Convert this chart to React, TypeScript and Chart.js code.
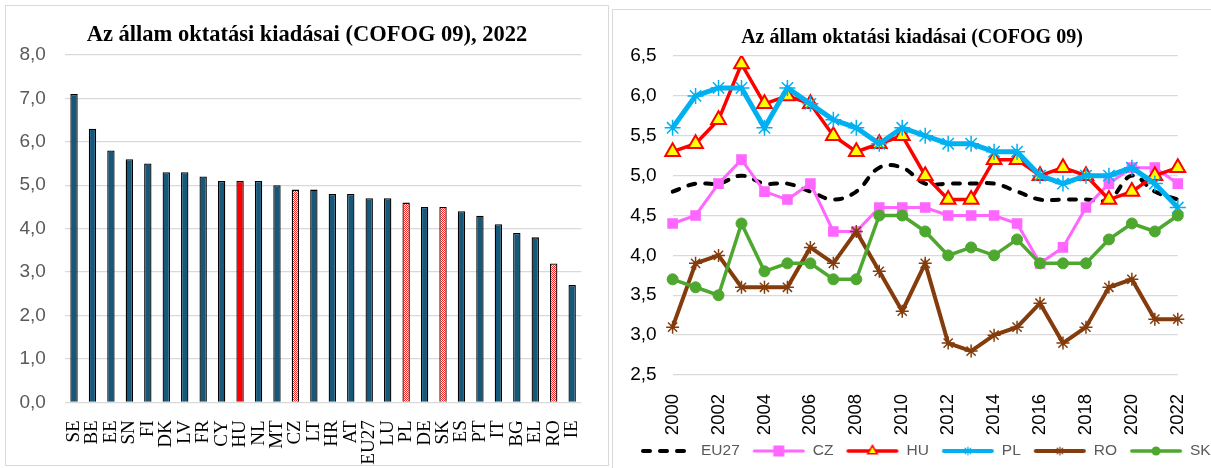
import React, { useEffect, useRef } from 'react';
import { Chart, registerables } from 'chart.js';

Chart.register(...registerables);

// ---------- Left chart data (2022) ----------
const barCategories = ['SE', 'BE', 'EE', 'SN', 'FI', 'DK', 'LV', 'FR', 'CY', 'HU', 'NL', 'MT', 'CZ', 'LT', 'HR', 'AT', 'EU27', 'LU', 'PL', 'DE', 'SK', 'ES', 'PT', 'IT', 'BG', 'EL', 'RO', 'IE'];
const barValues = [7.1, 6.3, 5.8, 5.6, 5.5, 5.3, 5.3, 5.2, 5.1, 5.1, 5.1, 5.0, 4.9, 4.9, 4.8, 4.8, 4.7, 4.7, 4.6, 4.5, 4.5, 4.4, 4.3, 4.1, 3.9, 3.8, 3.2, 2.7];
const solidHighlight = ['HU'];
const patternHighlight = ['CZ', 'PL', 'SK', 'RO'];

// ---------- Right chart data (2000-2022) ----------
const years = ['2000', '2001', '2002', '2003', '2004', '2005', '2006', '2007', '2008', '2009', '2010', '2011', '2012', '2013', '2014', '2015', '2016', '2017', '2018', '2019', '2020', '2021', '2022'];
const eu27 = [4.8, 4.9, 4.9, 5.0, 4.9, 4.9, 4.8, 4.7, 4.8, 5.1, 5.1, 4.9, 4.9, 4.9, 4.9, 4.8, 4.7, 4.7, 4.7, 4.7, 5.0, 4.8, 4.7];
const cz = [4.4, 4.5, 4.9, 5.2, 4.8, 4.7, 4.9, 4.3, 4.3, 4.6, 4.6, 4.6, 4.5, 4.5, 4.5, 4.4, 3.9, 4.1, 4.6, 4.9, 5.1, 5.1, 4.9];
const hu = [5.3, 5.4, 5.7, 6.4, 5.9, 6.0, 5.9, 5.5, 5.3, 5.4, 5.5, 5.0, 4.7, 4.7, 5.2, 5.2, 5.0, 5.1, 5.0, 4.7, 4.8, 5.0, 5.1];
const pl = [5.6, 6.0, 6.1, 6.1, 5.6, 6.1, 5.9, 5.7, 5.6, 5.4, 5.6, 5.5, 5.4, 5.4, 5.3, 5.3, 5.0, 4.9, 5.0, 5.0, 5.1, 4.9, 4.6];
const ro = [3.1, 3.9, 4.0, 3.6, 3.6, 3.6, 4.1, 3.9, 4.3, 3.8, 3.3, 3.9, 2.9, 2.8, 3.0, 3.1, 3.4, 2.9, 3.1, 3.6, 3.7, 3.2, 3.2];
const sk = [3.7, 3.6, 3.5, 4.4, 3.8, 3.9, 3.9, 3.7, 3.7, 4.5, 4.5, 4.3, 4.0, 4.1, 4.0, 4.2, 3.9, 3.9, 3.9, 4.2, 4.4, 4.3, 4.5];

const SERIF = '"Liberation Serif", "Times New Roman", serif';
const SANS = '"Liberation Sans", Arial, sans-serif';
const GRID = '#d9d9d9';

const fmt = (v: number) => v.toFixed(1).replace('.', ',');

function makePattern(): CanvasPattern | string {
  const c = document.createElement('canvas');
  c.width = 2;
  c.height = 2;
  const g = c.getContext('2d');
  if (!g) return '#ff8080';
  g.fillStyle = '#ffffff';
  g.fillRect(0, 0, 2, 2);
  g.fillStyle = '#ff2020';
  g.fillRect(0, 0, 1, 1);
  g.fillRect(1, 1, 1, 1);
  return g.createPattern(c, 'repeat') || '#ff8080';
}

type MarkerKind = 'none' | 'rect' | 'triangle' | 'star' | 'circle';

const LEGEND_LINE = 54;

function legendImage(color: string, lw: number, dash: number[], marker: MarkerKind, fill: string, r: number): HTMLCanvasElement {
  const w = LEGEND_LINE, h = 18;
  const c = document.createElement('canvas');
  c.width = w;
  c.height = h;
  const g = c.getContext('2d');
  if (!g) return c;
  const cy = h / 2, cx = w / 2;
  g.strokeStyle = color;
  g.lineWidth = lw;
  g.lineCap = 'round';
  g.setLineDash(dash);
  g.beginPath();
  g.moveTo(lw / 2 + 1, cy);
  g.lineTo(w - lw / 2 - 1, cy);
  g.stroke();
  g.setLineDash([]);
  if (marker === 'rect') {
    g.fillStyle = fill;
    g.fillRect(cx - r, cy - r, 2 * r, 2 * r);
  } else if (marker === 'triangle') {
    g.fillStyle = fill;
    g.strokeStyle = color;
    g.lineWidth = 1.5;
    g.beginPath();
    g.moveTo(cx, cy - r);
    g.lineTo(cx + r * 0.87, cy + r * 0.5);
    g.lineTo(cx - r * 0.87, cy + r * 0.5);
    g.closePath();
    g.fill();
    g.stroke();
  } else if (marker === 'star') {
    g.strokeStyle = color;
    g.lineWidth = 1.2;
    g.beginPath();
    for (let k = 0; k < 4; k++) {
      const a = (k * Math.PI) / 4;
      g.moveTo(cx - Math.cos(a) * r, cy - Math.sin(a) * r);
      g.lineTo(cx + Math.cos(a) * r, cy + Math.sin(a) * r);
    }
    g.stroke();
  } else if (marker === 'circle') {
    g.fillStyle = fill;
    g.beginPath();
    g.arc(cx, cy, r, 0, Math.PI * 2);
    g.fill();
  }
  return c;
}

// a blank right-hand axis used only to reserve space, so the title stays centred on the canvas
const spacerAxis = (w: number) => ({
  position: 'right' as const,
  display: true,
  grid: { display: false },
  border: { display: false },
  ticks: { display: false },
  afterFit: (s: any) => {
    s.width = w;
  },
});

function BarChart() {
  const ref = useRef<HTMLCanvasElement>(null);
  useEffect(() => {
    if (!ref.current) return;
    const pattern = makePattern();
    const colors = barCategories.map((c) =>
      solidHighlight.includes(c) ? '#ff0000' : patternHighlight.includes(c) ? pattern : '#17587a'
    );
    const chart = new Chart(ref.current, {
      type: 'bar',
      data: {
        labels: barCategories,
        datasets: [
          {
            data: barValues,
            backgroundColor: colors as any,
            borderColor: '#000000',
            borderWidth: 1.3,
            barPercentage: 0.4,
            categoryPercentage: 1,
            yAxisID: 'y',
          },
        ],
      },
      options: {
        responsive: false,
        animation: false,
        events: [],
        layout: { padding: 0 },
        plugins: {
          legend: { display: false },
          tooltip: { enabled: false },
          title: {
            display: true,
            text: 'Az állam oktatási kiadásai (COFOG 09), 2022',
            color: '#000000',
            font: { family: SERIF, size: 22.5, weight: 'bold' },
            padding: { top: 15.5, bottom: 6.5 },
          },
        },
        scales: {
          x: {
            grid: { display: false },
            border: { display: false },
            ticks: {
              color: '#000000',
              font: { family: SERIF, size: 19 },
              minRotation: 90,
              maxRotation: 90,
              autoSkip: false,
              padding: 10,
            },
            afterFit: (s: any) => {
              s.height = 62.7;
            },
          },
          y: {
            min: 0,
            max: 8,
            ticks: {
              stepSize: 1,
              callback: (v: any) => fmt(Number(v)),
              color: '#595959',
              font: { family: SANS, size: 19 },
              padding: 19,
            },
            grid: { color: GRID, lineWidth: 1.3, drawTicks: false },
            border: { display: false },
            afterFit: (s: any) => {
              s.width = 58.8;
            },
          },
          yRight: spacerAxis(26.6) as any,
        },
      },
    });
    return () => chart.destroy();
  }, []);
  return (
    <canvas
      ref={ref}
      width={602}
      height={459}
      style={{ position: 'absolute', left: 6, top: 6, width: 602, height: 459 }}
    />
  );
}

function LineChart() {
  const ref = useRef<HTMLCanvasElement>(null);
  useEffect(() => {
    if (!ref.current) return;
    const legendImgs = [
      legendImage('#000000', 4, [7, 10], 'none', '#000', 0),
      legendImage('#ff66ff', 3, [], 'rect', '#ff66ff', 5.5),
      legendImage('#ff0000', 3.5, [], 'triangle', '#ffff00', 5.5),
      legendImage('#00b0f0', 4, [], 'star', '#00b0f0', 4),
      legendImage('#843c0c', 4, [], 'star', '#843c0c', 4),
      legendImage('#4ea72e', 3.5, [], 'circle', '#4ea72e', 4.5),
    ];
    const legendPlugin = {
      id: 'bottomLegend',
      afterDraw(ch: any) {
        const ctx: CanvasRenderingContext2D = ch.ctx;
        const y = 441;
        let x = 27;
        ctx.save();
        ctx.font = `15.5px ${SANS}`;
        ctx.textBaseline = 'middle';
        ctx.textAlign = 'left';
        ch.data.datasets.forEach((ds: any, i: number) => {
          const img = legendImgs[i];
          ctx.drawImage(img, x, y - img.height / 2);
          ctx.fillStyle = '#595959';
          ctx.fillText(ds.label, x + LEGEND_LINE + 7, y);
          x += LEGEND_LINE + 7 + ctx.measureText(ds.label).width + 12;
        });
        ctx.restore();
      },
    };
    const chart = new Chart(ref.current, {
      type: 'line',
      data: {
        labels: years,
        datasets: [
          {
            label: 'EU27',
            data: eu27,
            borderColor: '#000000',
            borderWidth: 4,
            borderDash: [7, 10],
            borderCapStyle: 'round',
            tension: 0.4,
            pointRadius: 0,
            order: 6,
          },
          {
            label: 'CZ',
            data: cz,
            borderColor: '#ff66ff',
            backgroundColor: '#ff66ff',
            borderWidth: 3,
            pointStyle: 'rect',
            pointRadius: 7.5,
            pointBorderWidth: 0,
            pointBackgroundColor: '#ff66ff',
            order: 5,
          },
          {
            label: 'HU',
            data: hu,
            borderColor: '#ff0000',
            borderWidth: 3.5,
            pointStyle: 'triangle',
            pointRadius: 8.5,
            pointBackgroundColor: '#ffff00',
            pointBorderColor: '#ff0000',
            pointBorderWidth: 2,
            order: 4,
          },
          {
            label: 'PL',
            data: pl,
            borderColor: '#00b0f0',
            borderWidth: 5,
            pointStyle: 'star',
            pointRadius: 8,
            pointBorderColor: '#00b0f0',
            pointBorderWidth: 1.5,
            order: 3,
          },
          {
            label: 'RO',
            data: ro,
            borderColor: '#843c0c',
            borderWidth: 4,
            pointStyle: 'star',
            pointRadius: 6.5,
            pointBorderColor: '#843c0c',
            pointBorderWidth: 1.5,
            order: 2,
          },
          {
            label: 'SK',
            data: sk,
            borderColor: '#4ea72e',
            backgroundColor: '#4ea72e',
            borderWidth: 3.5,
            pointStyle: 'circle',
            pointRadius: 5.5,
            pointBackgroundColor: '#4ea72e',
            pointBorderColor: '#4ea72e',
            pointBorderWidth: 1,
            order: 1,
          },
        ],
      },
      plugins: [legendPlugin],
      options: {
        responsive: false,
        animation: false,
        events: [],
        layout: { padding: { left: 0, right: 0, top: 0, bottom: 31 } },
        plugins: {
          tooltip: { enabled: false },
          legend: { display: false },
          title: {
            display: true,
            text: 'Az állam oktatási kiadásai (COFOG 09)',
            color: '#000000',
            font: { family: SERIF, size: 20, weight: 'bold' },
            padding: { top: 15.5, bottom: 6.5 },
          },
        },
        scales: {
          x: {
            grid: { display: false },
            border: { display: false },
            ticks: {
              color: '#000000',
              font: { family: SANS, size: 18.5 },
              minRotation: 90,
              maxRotation: 90,
              autoSkip: false,
              padding: 11,
              callback: (_v: any, i: number) => (i % 2 === 0 ? years[i] : ''),
            },
            afterFit: (s: any) => {
              s.height = 62;
            },
          },
          y: {
            min: 2.5,
            max: 6.5,
            ticks: {
              stepSize: 0.5,
              callback: (v: any) => fmt(Number(v)),
              color: '#000000',
              font: { family: SANS, size: 19 },
              padding: 16,
            },
            grid: { color: GRID, lineWidth: 1.3, drawTicks: false },
            border: { display: false },
            afterFit: (s: any) => {
              s.width = 59.6;
            },
          },
          yRight: spacerAxis(28) as any,
        },
      },
    });
    return () => chart.destroy();
  }, []);
  return (
    <canvas
      ref={ref}
      width={598}
      height={458}
      style={{ position: 'absolute', left: 613, top: 10, width: 598, height: 458 }}
    />
  );
}

export default function App() {
  return (
    <div
      style={{
        position: 'absolute',
        left: 0,
        top: 0,
        width: 1211,
        height: 468,
        overflow: 'hidden',
        background: '#ffffff',
      }}
    >
      <div
        style={{
          position: 'absolute',
          left: 5,
          top: 5,
          width: 604,
          height: 461,
          boxSizing: 'border-box',
          border: '1px solid #d9d9d9',
        }}
      />
      <div
        style={{
          position: 'absolute',
          left: 612,
          top: 9,
          width: 603,
          height: 463,
          boxSizing: 'border-box',
          border: '1px solid #d9d9d9',
        }}
      />
      <BarChart />
      <LineChart />
    </div>
  );
}
